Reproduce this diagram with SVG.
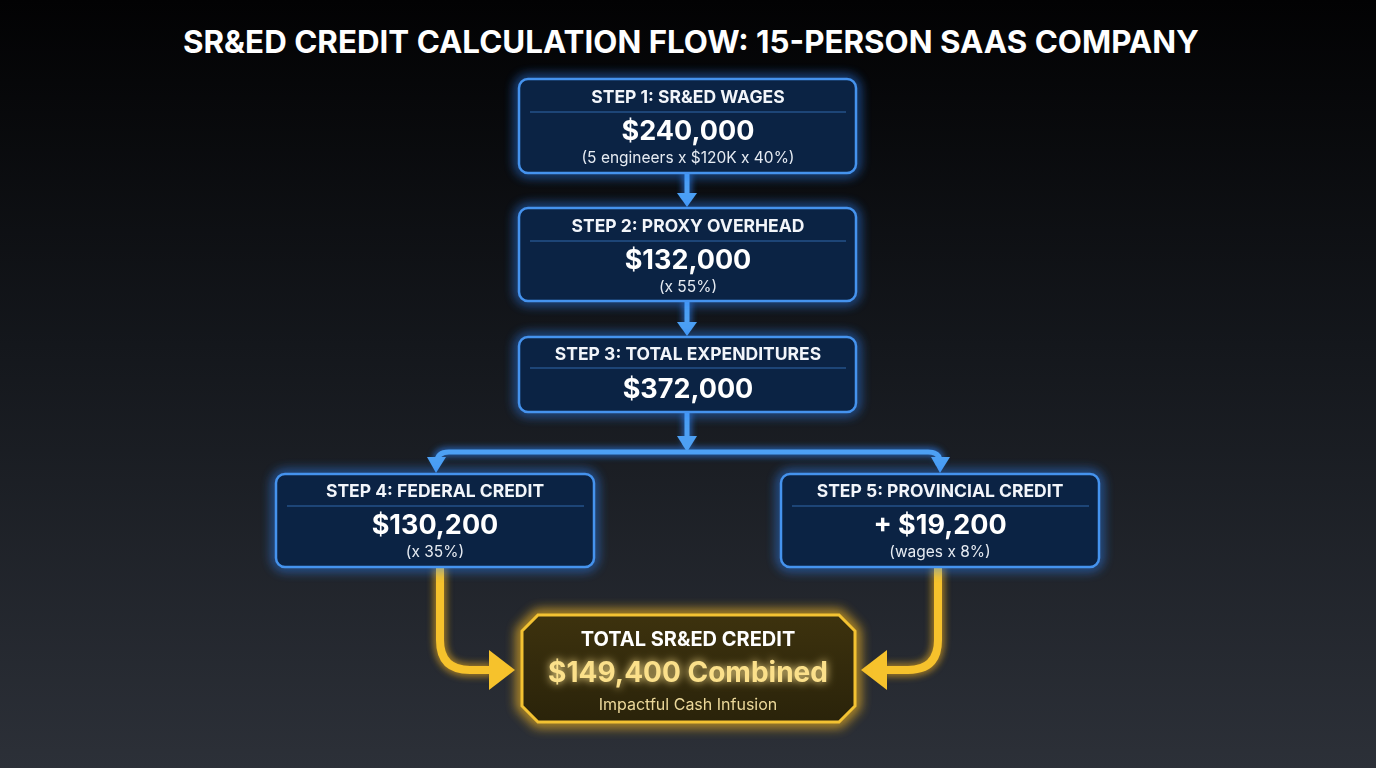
<svg xmlns="http://www.w3.org/2000/svg" width="1376" height="768" viewBox="0 0 1376 768">
<defs>
<linearGradient id="bg" x1="0" y1="0" x2="0" y2="1">
<stop offset="0" stop-color="#020203"/>
<stop offset="0.45" stop-color="#14171c"/>
<stop offset="1" stop-color="#2c3038"/>
</linearGradient>
<linearGradient id="gfill" x1="0" y1="0" x2="0" y2="1">
<stop offset="0" stop-color="#3d320e"/>
<stop offset="1" stop-color="#2a230a"/>
</linearGradient>
<filter id="glow" x="-20%" y="-40%" width="140%" height="180%">
<feGaussianBlur stdDeviation="6"/>
</filter>
<filter id="glowS" x="-20%" y="-20%" width="140%" height="140%">
<feGaussianBlur stdDeviation="3"/>
</filter>
<filter id="tglow" x="-10%" y="-40%" width="120%" height="180%">
<feGaussianBlur stdDeviation="4" result="b"/>
<feMerge><feMergeNode in="b"/><feMergeNode in="SourceGraphic"/></feMerge>
</filter>
<style>
.title{font-family:Inter,"Liberation Sans",sans-serif;font-weight:700;font-size:31px;fill:#ffffff}
.box{fill:#0b2344;stroke:#4593ee;stroke-width:2.5}
.halo{fill:none;stroke:#2f86ff;stroke-width:6;opacity:0.85}
.div{stroke:#3a78c4;stroke-width:1;opacity:0.8}
.h{font-family:Inter,"Liberation Sans",sans-serif;font-weight:700;font-size:17.5px;fill:#f2f5fa;text-anchor:middle}
.v{font-family:Inter,"Liberation Sans",sans-serif;font-weight:700;font-size:27px;fill:#ffffff;text-anchor:middle}
.s{font-family:Inter,"Liberation Sans",sans-serif;font-weight:400;font-size:15.5px;fill:#e6ebf2;text-anchor:middle}
.bl{fill:none;stroke:#4da0f4;stroke-width:5;stroke-linejoin:round}
.blh{fill:none;stroke:#2f86ff;stroke-width:9;opacity:0.6}
.ba{fill:#4da0f4}
.gl{fill:none;stroke:#f6c22c;stroke-width:8;stroke-linejoin:round}
.glh{fill:none;stroke:#f0b020;stroke-width:14;opacity:0.55}
.ga{fill:#f6c22c}
.gbox{fill:url(#gfill);stroke:#f3c232;stroke-width:3}
.ghalo{fill:none;stroke:#f5b820;stroke-width:10;opacity:0.85}
.gh{font-family:Inter,"Liberation Sans",sans-serif;font-weight:700;font-size:20px;fill:#ffffff;text-anchor:middle}
.gv{font-family:Inter,"Liberation Sans",sans-serif;font-weight:700;font-size:28px;fill:#fbe08a;text-anchor:middle}
.gs{font-family:Inter,"Liberation Sans",sans-serif;font-weight:400;font-size:16px;fill:#ecd89a;text-anchor:middle}
</style>
</defs>
<rect width="1376" height="768" fill="url(#bg)"/>
<text class="title" x="691" y="53" text-anchor="middle" textLength="1016" lengthAdjust="spacingAndGlyphs">SR&amp;ED CREDIT CALCULATION FLOW: 15-PERSON SAAS COMPANY</text>

<g id="connectors">
<g filter="url(#glowS)">
<path class="blh" d="M687 173 V196 M687 301 V325 M687 412 V445 M929 452 H448 Q437 452 437 461 M929 452 Q940 452 940 461"/>
<path class="glh" d="M440 567 V640 Q440 670 470 670 H492 M938 567 V640 Q938 670 908 670 H884"/>
</g>
<path class="bl" d="M687 173 V196"/>
<polygon class="ba" points="677,193 697,193 687,207"/>
<path class="bl" d="M687 301 V325"/>
<polygon class="ba" points="677,322 697,322 687,336"/>
<path class="bl" d="M687 412 V440"/>
<path class="bl" d="M437 462 Q437 452 449 452 H928 Q940 452 940 462"/>
<polygon class="ba" points="677,436 697,436 687,452"/>
<polygon class="ba" points="427,457 446,457 436,473"/>
<polygon class="ba" points="931,457 950,457 940,473"/>
<path class="gl" d="M440 567 V640 Q440 670 470 670 H492"/>
<polygon class="ga" points="489,650 515,670 489,690"/>
<path class="gl" d="M938 567 V640 Q938 670 908 670 H884"/>
<polygon class="ga" points="887,650 861,670 887,690"/>
</g>

<g id="step1">
<rect class="halo" x="519" y="79" width="337" height="94" rx="9" filter="url(#glow)"/>
<rect class="box" x="519" y="79" width="337" height="94" rx="9"/>
<line class="div" x1="530" y1="112" x2="846" y2="112"/>
<text class="h" x="688" y="103">STEP 1: SR&amp;ED WAGES</text>
<text class="v" x="688" y="140">$240,000</text>
<text class="s" x="688" y="163">(5 engineers x $120K x 40%)</text>
</g>

<g id="step2">
<rect class="halo" x="519" y="208" width="337" height="93" rx="9" filter="url(#glow)"/>
<rect class="box" x="519" y="208" width="337" height="93" rx="9"/>
<line class="div" x1="530" y1="241" x2="846" y2="241"/>
<text class="h" x="688" y="232">STEP 2: PROXY OVERHEAD</text>
<text class="v" x="688" y="269">$132,000</text>
<text class="s" x="688" y="292">(x 55%)</text>
</g>

<g id="step3">
<rect class="halo" x="519" y="337" width="337" height="75" rx="9" filter="url(#glow)"/>
<rect class="box" x="519" y="337" width="337" height="75" rx="9"/>
<line class="div" x1="530" y1="368" x2="846" y2="368"/>
<text class="h" x="688" y="360">STEP 3: TOTAL EXPENDITURES</text>
<text class="v" x="688" y="398">$372,000</text>
</g>

<g id="step4">
<rect class="halo" x="276" y="474" width="318" height="93" rx="9" filter="url(#glow)"/>
<rect class="box" x="276" y="474" width="318" height="93" rx="9"/>
<line class="div" x1="287" y1="506" x2="584" y2="506"/>
<text class="h" x="435" y="497">STEP 4: FEDERAL CREDIT</text>
<text class="v" x="435" y="534">$130,200</text>
<text class="s" x="435" y="557">(x 35%)</text>
</g>

<g id="step5">
<rect class="halo" x="781" y="474" width="318" height="93" rx="9" filter="url(#glow)"/>
<rect class="box" x="781" y="474" width="318" height="93" rx="9"/>
<line class="div" x1="792" y1="506" x2="1089" y2="506"/>
<text class="h" x="940" y="497">STEP 5: PROVINCIAL CREDIT</text>
<text class="v" x="940" y="534">+ $19,200</text>
<text class="s" x="940" y="557">(wages x 8%)</text>
</g>

<g id="total">
<polygon class="ghalo" points="538,615 839,615 855,631 855,706 839,722 538,722 522,706 522,631" filter="url(#glow)"/>
<polygon class="gbox" points="538,615 839,615 855,631 855,706 839,722 538,722 522,706 522,631"/>
<text class="gh" x="688" y="646">TOTAL SR&amp;ED CREDIT</text>
<text class="gv" x="688" y="682" filter="url(#tglow)">$149,400 Combined</text>
<text class="gs" x="688" y="710">Impactful Cash Infusion</text>
</g>
</svg>
